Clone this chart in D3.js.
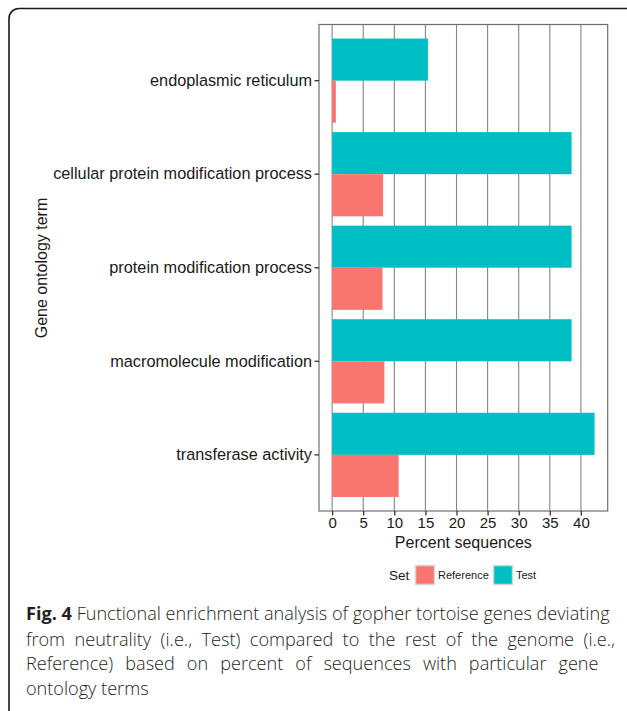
<!DOCTYPE html>
<html>
<head>
<meta charset="utf-8">
<script src="https://cdn.jsdelivr.net/npm/d3@7"></script>
<style>
  body { margin: 0; background: #fff; }
  svg { display: block; }
</style>
</head>
<body>
<div id="chart"></div>
<script>
// data
var terms = ["endoplasmic reticulum", "cellular protein modification process",
             "protein modification process", "macromolecule modification", "transferase activity"];
var testPct = [15.4, 38.5, 38.5, 38.5, 42.2];
var refPct = [0.6, 8.2, 8.1, 8.4, 10.7];
var sets = ["Test", "Reference"];
var legendSets = ["Reference", "Test"];
var setColors = {"Reference": "#F8766D", "Test": "#00BFC4"};
var xTicks = [0, 5, 10, 15, 20, 25, 30, 35, 40];
var captionLines = [
    "Functional enrichment analysis of gopher tortoise genes deviating",
    "from neutrality (i.e., Test) compared to the rest of the genome (i.e.,",
    "Reference) based on percent of sequences with particular gene",
    "ontology terms"
];

var W = 627, H = 711;
var panel = {left: 319, right: 607.7, top: 24.5, bottom: 511};

var svg = d3.select("#chart").append("svg")
    .attr("width", W)
    .attr("height", H);

// outer rounded frame (runs off the right and bottom edges)
svg.append("rect")
    .attr("x", 9).attr("y", 8.5)
    .attr("width", 640).attr("height", 730)
    .attr("rx", 10).attr("ry", 10)
    .attr("fill", "none")
    .attr("stroke", "#1a1a1a")
    .attr("stroke-width", 1.6);

var rows = terms.map(function(t, i) {
    return {term: t, values: [{set: "Test", v: testPct[i]}, {set: "Reference", v: refPct[i]}]};
});

var xmax = d3.max(testPct);
var pad = xmax * 0.05;
var x = d3.scaleLinear().domain([-pad, xmax + pad]).range([panel.left, panel.right]);
var y = d3.scaleBand().domain(terms).range([panel.top, panel.bottom])
    .paddingInner(0.1).paddingOuter(0.15);
var ySet = d3.scaleBand().domain(sets).range([0, y.bandwidth()]);

// grid lines
svg.append("g").selectAll("line")
    .data(xTicks)
    .enter().append("line")
    .attr("x1", function(d) { return x(d); })
    .attr("x2", function(d) { return x(d); })
    .attr("y1", panel.top)
    .attr("y2", panel.bottom)
    .attr("stroke", "#858585")
    .attr("stroke-width", 1.1);

// bars
var groups = svg.append("g").selectAll("g")
    .data(rows)
    .enter().append("g")
    .attr("transform", function(d) { return "translate(0," + y(d.term) + ")"; });

groups.selectAll("rect")
    .data(function(d) { return d.values; })
    .enter().append("rect")
    .attr("x", x(0))
    .attr("y", function(d) { return ySet(d.set); })
    .attr("width", function(d) { return x(d.v) - x(0); })
    .attr("height", ySet.bandwidth())
    .attr("fill", function(d) { return setColors[d.set]; });

// panel border
svg.append("rect")
    .attr("x", panel.left).attr("y", panel.top)
    .attr("width", panel.right - panel.left)
    .attr("height", panel.bottom - panel.top)
    .attr("fill", "none")
    .attr("stroke", "#6e6e6e")
    .attr("stroke-width", 1.2);

// y axis
var yAxis = svg.append("g")
    .attr("transform", "translate(" + panel.left + ",0)")
    .call(d3.axisLeft(y).tickSize(4.5).tickPadding(2.5));
yAxis.select(".domain").remove();
yAxis.selectAll(".tick line").attr("stroke", "#333").attr("stroke-width", 1.3);
yAxis.selectAll(".tick text")
    .attr("fill", "#1a1a1a")
    .style("font-family", "'Liberation Sans', Arial, sans-serif")
    .style("font-size", "16.3px");

// x axis
var xAxis = svg.append("g")
    .attr("transform", "translate(0," + panel.bottom + ")")
    .call(d3.axisBottom(x).tickValues(xTicks).tickSize(4.5).tickPadding(2));
xAxis.select(".domain").remove();
xAxis.selectAll(".tick line").attr("stroke", "#333").attr("stroke-width", 1.3);
xAxis.selectAll(".tick text")
    .attr("fill", "#1a1a1a")
    .style("font-family", "'Liberation Sans', Arial, sans-serif")
    .style("font-size", "15px");

// axis titles
svg.append("text")
    .attr("x", (panel.left + panel.right) / 2)
    .attr("y", 548)
    .attr("text-anchor", "middle")
    .attr("fill", "#1a1a1a")
    .style("font-family", "'Liberation Sans', Arial, sans-serif")
    .style("font-size", "16px")
    .text("Percent sequences");

svg.append("text")
    .attr("transform", "translate(47," + 268 + ") rotate(-90)")
    .attr("text-anchor", "middle")
    .attr("fill", "#1a1a1a")
    .style("font-family", "'Liberation Sans', Arial, sans-serif")
    .style("font-size", "16px")
    .text("Gene ontology term");

// legend
var legend = svg.append("g").attr("transform", "translate(0,575)");
legend.append("text")
    .attr("x", 389).attr("y", 5)
    .attr("fill", "#1a1a1a")
    .style("font-family", "'Liberation Sans', Arial, sans-serif")
    .style("font-size", "13.5px")
    .text("Set");
var keyX = {"Reference": 415, "Test": 493};
var items = legend.selectAll("g.item")
    .data(legendSets)
    .enter().append("g")
    .attr("class", "item")
    .attr("transform", function(d) { return "translate(" + keyX[d] + ",0)"; });
items.append("rect")
    .attr("x", 0.5).attr("y", -9.5)
    .attr("width", 19).attr("height", 19)
    .attr("fill", function(d) { return setColors[d]; })
    .attr("stroke", "#d6d6d6")
    .attr("stroke-width", 1.5);
items.append("text")
    .attr("x", 23).attr("y", 4)
    .attr("fill", "#1a1a1a")
    .style("font-family", "'Liberation Sans', Arial, sans-serif")
    .style("font-size", "11px")
    .text(function(d) { return d; });

// caption: condensed humanist face, first three lines justified
var capLeft = 26;
var capRight = [610, 615, 598.5, null];
var capBase = [620, 645.5, 670, 695];
var capFont = 18.5;

var capTexts = captionLines.map(function(line, i) {
    var t = svg.append("text")
        .attr("fill", "#231f20")
        .style("font-family", "'Open Sans', 'Noto Sans', sans-serif")
        .style("font-weight", 300)
        .style("font-size", capFont + "px");
    if (i === 0) {
        t.append("tspan").style("font-weight", 700).text("Fig. 4");
        t.append("tspan").text(" " + line);
    } else {
        t.text(line);
    }
    return t;
});

// squeeze glyphs so the first line fits naturally, then justify the others
var natural0 = capTexts[0].node().getComputedTextLength();
var sx = (capRight[0] - capLeft) / natural0;
capTexts.forEach(function(t, i) {
    t.attr("transform", "translate(" + capLeft + "," + capBase[i] + ") scale(" + sx + ",1)");
    if (i > 0 && capRight[i] != null) {
        var w = t.node().getComputedTextLength();
        var gaps = captionLines[i].split(" ").length - 1;
        var extra = ((capRight[i] - capLeft) / sx - w) / gaps;
        t.style("word-spacing", extra + "px");
    }
});
</script>
</body>
</html>
